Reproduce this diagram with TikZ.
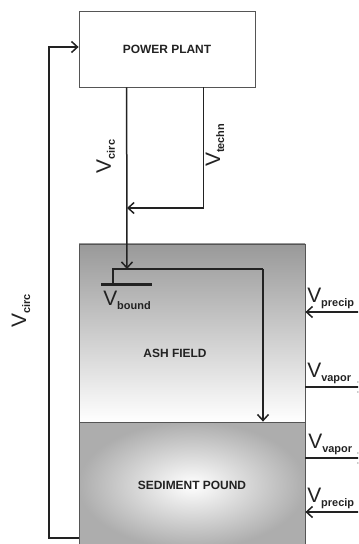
\documentclass[tikz,border=0pt]{standalone}
\usepackage{fontspec}
\setmainfont{Liberation Sans}
\usetikzlibrary{arrows.meta,positioning,calc}
\definecolor{plantInk}{HTML}{222222}
\definecolor{plantEdge}{HTML}{555555}
\newcommand{\vflow}[1]{V\raisebox{-4bp}{\fontsize{11}{11}\selectfont\bfseries #1}}
\tikzset{
  unit/.style={rectangle, draw=plantEdge, line width=0.8bp, text=plantInk, font=\fontsize{12}{14}\selectfont\bfseries, inner sep=0pt},
  field/.style={unit, top color=black!40, bottom color=white},
  pond/.style={unit, inner color=white, outer color=black!32},
  flow/.style={draw=plantInk, line width=1.5bp, -{Straight Barb[length=6bp,width=11bp]}},
  plain/.style={draw=plantInk, line width=1.5bp},
  bar/.style={draw=plantInk, line width=3bp},
  vlab/.style={text=plantInk, font=\fontsize{21}{22}\selectfont, inner sep=1bp}
}
\begin{document}
\begin{tikzpicture}[x=1bp, y=-1bp]
\clip (0,0) rectangle (358,544);
\node[unit, fill=white, minimum width=176bp, minimum height=76bp] (plant) at (167,49) {POWER PLANT};
\node[field, minimum width=226bp, minimum height=178bp] (ash) at (192,333) {};
\node[pond, minimum width=226bp, minimum height=126bp] (pond) at (192,485) {SEDIMENT POUND};
\node[unit, draw=none, fill=none] (ashtext) at (175,353) {ASH FIELD};
% junction points
\coordinate (split) at (127,269);
\coordinate (join) at (127,208);
\coordinate (bnd) at (113,284);
\coordinate (drop) at (263,269);
\coordinate (loop) at (49,47);
\coordinate (precipA) at (362,312);
\coordinate (vaporA) at (365,387);
\coordinate (vaporB) at (365,458);
\coordinate (precipB) at (362,512);
% flows from and to the plant
\draw[flow] ([xshift=48bp]plant.south west) -- node[vlab, rotate=90, above, pos=0.38, yshift=10bp] {\vflow{circ}} (split);
\draw[flow] ([xshift=125bp]plant.south west) |- node[vlab, rotate=90, below, pos=0.24, yshift=-0.5bp] {\vflow{techn}} (join);
\draw[plain] (bnd) -- (bnd |- split) -- (drop);
\draw[flow] (drop) -- (drop |- pond.north);
\draw[bar] ([xshift=-12bp]bnd) -- ([xshift=39bp]bnd);
\node[vlab] (boundlab) at (127,300) {\vflow{bound}};
\draw[flow] ([yshift=-53bp]pond.west) -| (loop) -- (plant.west |- loop);
\node[vlab, rotate=90] (circlab) at (21,311) {\vflow{circ}};
% water balance at the right side
\draw[flow] (precipA) -- node[vlab, above, pos=0.5, yshift=1bp, xshift=-3bp] {\vflow{precip}} (precipA -| ash.east);
\draw[flow] (vaporA -| ash.east) -- node[vlab, above, pos=0.45, yshift=1bp, xshift=-3bp] {\vflow{vapor}} (vaporA);
\draw[flow] (vaporB -| pond.east) -- node[vlab, above, pos=0.45, yshift=1bp, xshift=-2bp] {\vflow{vapor}} (vaporB);
\draw[flow] (precipB) -- node[vlab, above, pos=0.5, yshift=1bp, xshift=-3bp] {\vflow{precip}} (precipB -| pond.east);
\end{tikzpicture}
\end{document}
